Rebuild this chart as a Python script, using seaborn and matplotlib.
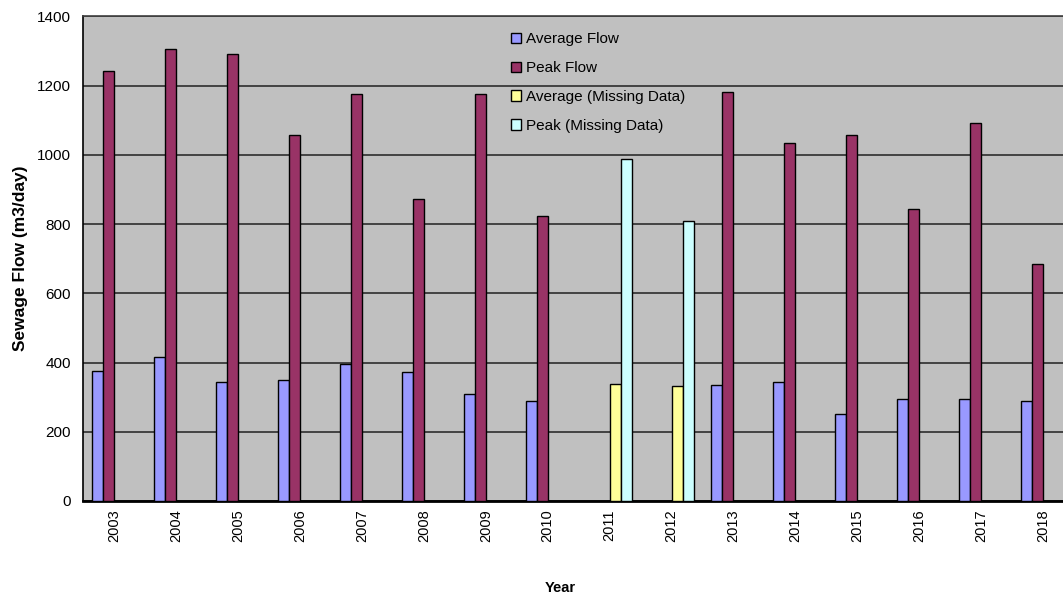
import matplotlib
matplotlib.use("Agg")
import matplotlib.pyplot as plt
import seaborn as sns
import pandas as pd

# Annual sewage flow records (m3/day)
years = [str(y) for y in range(2003, 2019)]
average_flow = [375, 415, 345, 349, 395, 372, 310, 288, None, None,
                334, 345, 250, 295, 295, 288]
peak_flow = [1241, 1306, 1291, 1057, 1176, 873, 1177, 824, None, None,
             1180, 1035, 1058, 842, 1092, 685]
average_missing = [None] * 8 + [338, 333] + [None] * 6
peak_missing = [None] * 8 + [988, 809] + [None] * 6

series_names = ["Average Flow", "Peak Flow",
                "Average (Missing Data)", "Peak (Missing Data)"]
series_values = [average_flow, peak_flow, average_missing, peak_missing]
series_colors = ["#9999FF", "#993366", "#FFFF99", "#CCFFFF"]

y_ticks = [0, 200, 400, 600, 800, 1000, 1200, 1400]

rows = []
for name, values in zip(series_names, series_values):
    for year, v in zip(years, values):
        if v is not None:
            rows.append({"Year": year, "Flow": v, "Series": name})
df = pd.DataFrame(rows)

sns.set_style("white")
plt.rcParams["font.family"] = ["Liberation Sans", "DejaVu Sans"]
plt.rcParams["text.color"] = "black"
plt.rcParams["axes.labelcolor"] = "black"
plt.rcParams["xtick.color"] = "black"
plt.rcParams["ytick.color"] = "black"

fig = plt.figure(figsize=(10.63, 5.99), dpi=100)
W, H = 1063, 599
left, right, top, bottom = 83.3, 1074.0, 16.3, 501.0
ax = fig.add_axes([left / W, 1 - bottom / H, (right - left) / W, (bottom - top) / H])
ax.set_facecolor("#C0C0C0")

sns.barplot(data=df, x="Year", y="Flow", hue="Series", order=years,
            hue_order=series_names, palette=series_colors, width=0.71,
            edgecolor="black", linewidth=1.0, saturation=1, ax=ax, zorder=3)

ax.set_xlim(-0.5, len(years) - 0.5)
ax.set_ylim(0, 1400)
ax.set_yticks(y_ticks)
ax.set_yticklabels([str(t) for t in y_ticks], fontsize=11)
ax.yaxis.grid(True, color="#202020", linewidth=1.1, zorder=1)
ax.set_axisbelow(True)

# Category labels at centres, tick marks at category boundaries
ax.set_xticks(range(len(years)))
ax.set_xticklabels(years, rotation=90, fontsize=10.5)
ax.set_xticks([i - 0.5 for i in range(len(years) + 1)], minor=True)
ax.tick_params(axis="x", which="major", length=0, pad=6)
ax.tick_params(axis="x", which="minor", length=5, width=1, color="black", direction="out")
ax.tick_params(axis="y", length=5, width=1, color="black", direction="out", pad=4)

for side in ["left", "bottom"]:
    ax.spines[side].set_visible(True)
    ax.spines[side].set_color("black")
ax.spines["left"].set_linewidth(1.2)
ax.spines["bottom"].set_linewidth(2.0)
ax.spines["top"].set_color("#404040")
ax.spines["top"].set_linewidth(1.2)
ax.spines["right"].set_visible(False)

ax.set_xlabel("")
ax.set_ylabel("Sewage Flow (m3/day)", fontsize=12.5, fontweight="bold", labelpad=6)
fig.text(560 / W, 1 - 588 / H, "Year", ha="center", va="center",
         fontsize=10.5, fontweight="bold")

sns.move_legend(ax, "upper left",
                bbox_to_anchor=((511 - left) / (right - left), 1 - (32 - top) / (bottom - top)),
                frameon=False, title=None, fontsize=11, handlelength=0.65,
                handleheight=0.65, handletextpad=0.3, labelspacing=0.98,
                borderpad=0, borderaxespad=0)

fig.savefig("out.png", dpi=100)
